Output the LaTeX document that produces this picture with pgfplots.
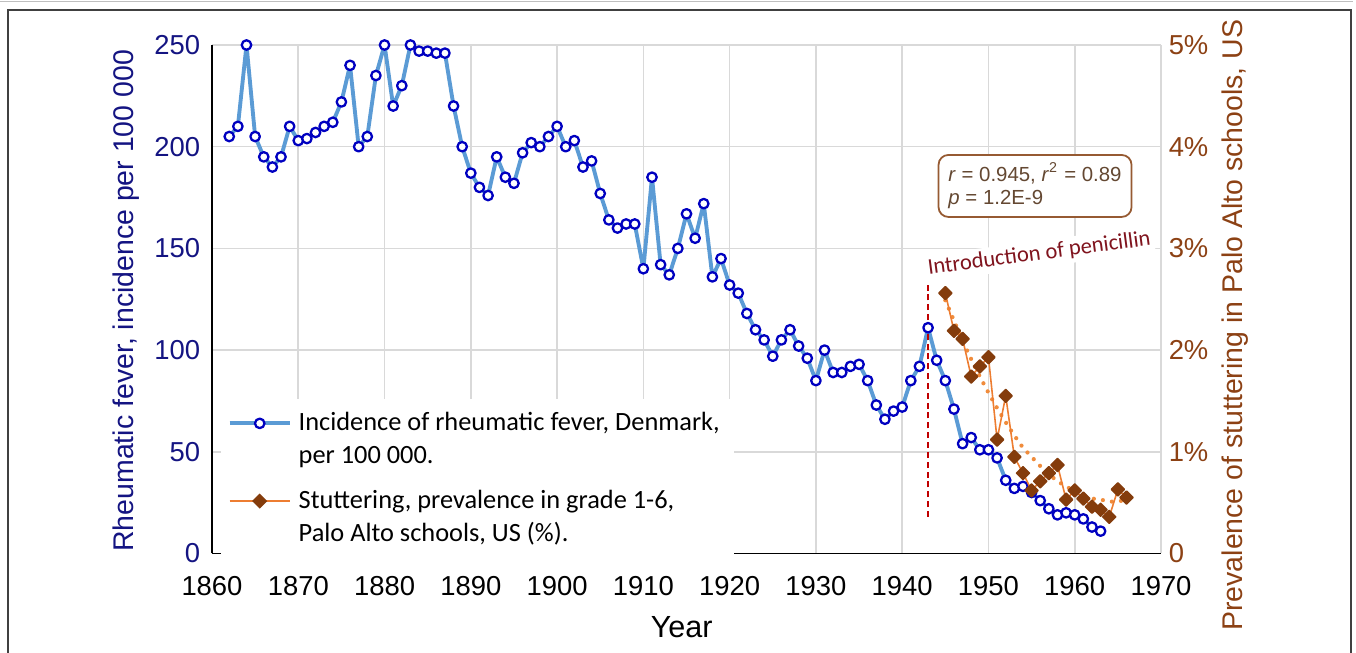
\documentclass[border=0pt]{standalone}
\usepackage{fontspec}
\setmainfont{Liberation Sans}
\newfontfamily\calibri{Carlito}
\usepackage{pgfplots}
\pgfplotsset{compat=1.18}
\definecolor{navyc}{RGB}{20,20,130}
\definecolor{markblue}{RGB}{0,0,192}
\definecolor{blueline}{RGB}{91,155,213}
\definecolor{brownc}{RGB}{140,65,20}
\definecolor{brownd}{RGB}{132,60,12}
\definecolor{orangel}{RGB}{237,125,49}
\definecolor{orangedot}{RGB}{240,140,60}
\definecolor{redd}{RGB}{192,0,0}
\definecolor{pencol}{RGB}{128,20,30}
\definecolor{gridgray}{RGB}{217,217,217}
\definecolor{boxbrown}{RGB}{150,90,50}
\definecolor{boxtext}{RGB}{100,72,50}
\begin{document}
\begin{tikzpicture}
\useasboundingbox (0,0) rectangle (13.56cm,6.53cm);
\begin{scope}[x=0.01cm,y=-0.01cm,shift={(0cm,6.53cm)}]
\draw[black!75, line width=0.45pt] (8,660) -- (8,10) -- (1352,10) -- (1352,660);
\draw[black!25, line width=0.4pt] (0,1.5) -- (1354,1.5);
\end{scope}
\begin{axis}[
 at={(2.12cm,0.995cm)}, anchor=south west,
 scale only axis, width=9.49cm, height=5.085cm,
 xmin=1860, xmax=1970, ymin=0, ymax=250,
 xtick={1860,1870,...,1970}, ytick={0,50,...,250},
 axis x line*=bottom, axis y line*=left,
 axis line style={black, line width=0.5pt, -},
 major tick length=0pt,
 grid=major, major grid style={color=gridgray, line width=0.45pt},
 /pgf/number format/assume math mode=true,
 /pgf/number format/1000 sep={},
 tick label style={font=\fontsize{7.8}{9}\selectfont},
 yticklabel style={text=navyc, inner sep=0pt, xshift=-3.2pt},
 xticklabel style={inner sep=0pt, yshift=-6.2pt},
 ylabel={Rheumatic fever, incidence per 100 000},
 ylabel style={at={(axis description cs:-0.091,0.497)}, anchor=center, text=navyc, font=\fontsize{8.1}{9.7}\selectfont},
 xlabel={Year},
 xlabel style={at={(axis description cs:0.495,-0.166)}, anchor=base, font=\fontsize{8.7}{10}\selectfont},
 legend style={at={(0.0085,0.306)}, anchor=north west, draw=none, fill=white, font=\calibri\fontsize{7.5}{9.4}\selectfont, cells={align=left, anchor=west}, row sep=2pt, inner sep=2pt},
 legend image post style={yshift=5pt},
 legend cell align=left,
]
\addplot[blueline, line width=1.1pt, line join=round, mark=*, mark size=1.35pt, mark options={draw=markblue, fill=white, line width=0.65pt}] coordinates {
(1862,205)(1863,210)(1864,250)(1865,205)(1866,195)(1867,190)(1868,195)(1869,210)
(1870,203)(1871,204)(1872,207)(1873,210)(1874,212)(1875,222)(1876,240)(1877,200)
(1878,205)(1879,235)(1880,250)(1881,220)(1882,230)(1883,250)(1884,247)(1885,247)
(1886,246)(1887,246)(1888,220)(1889,200)(1890,187)(1891,180)(1892,176)(1893,195)
(1894,185)(1895,182)(1896,197)(1897,202)(1898,200)(1899,205)(1900,210)(1901,200)
(1902,203)(1903,190)(1904,193)(1905,177)(1906,164)(1907,160)(1908,162)(1909,162)
(1910,140)(1911,185)(1912,142)(1913,137)(1914,150)(1915,167)(1916,155)(1917,172)
(1918,136)(1919,145)(1920,132)(1921,128)(1922,118)(1923,110)(1924,105)(1925,97)
(1926,105)(1927,110)(1928,102)(1929,96)(1930,85)(1931,100)(1932,89)(1933,89)
(1934,92)(1935,93)(1936,85)(1937,73)(1938,66)(1939,70)(1940,72)(1941,85)
(1942,92)(1943,111)(1944,95)(1945,85)(1946,71)(1947,54)(1948,57)(1949,51)
(1950,51)(1951,47)(1952,36)(1953,32)(1954,33)(1955,30)(1956,26)(1957,22)
(1958,19)(1959,20)(1960,19)(1961,17)(1962,13)(1963,11)
};
\addlegendentry{Incidence of rheumatic fever, Denmark,\\per 100 000.}
\addplot[redd, dash pattern=on 1.7pt off 1.1pt, line width=0.45pt, forget plot] coordinates {(1943,18) (1943,133)};
\addlegendimage{orangel, line width=0.45pt, mark=square*, mark size=1.3pt, mark options={rotate=45, draw=brownd, fill=brownd}}
\addlegendentry{Stuttering, prevalence in grade 1-6,\\Palo Alto schools, US (\%).}
\node[draw=boxbrown, rounded corners=2.8pt, fill=white, line width=0.5pt, align=left, font=\fontsize{5.8}{6.5}\selectfont, text=boxtext, minimum width=1.93cm, minimum height=0.62cm, inner sep=2pt] at (axis cs:1955.4,180.7) {\textit{r} = 0.945, \textit{r}\textsuperscript{2} = 0.89\\\textit{p} = 1.2E-9};
\node[rotate=7.5, anchor=base west, text=pencol, font=\calibri\fontsize{6.4}{7.7}\selectfont, fill=white, inner sep=1pt] at (axis cs:1942.6,136.9) {Introduction of penicillin};
\end{axis}
\begin{axis}[
 at={(2.12cm,0.995cm)}, anchor=south west,
 scale only axis, width=9.49cm, height=5.085cm,
 xmin=1860, xmax=1970, ymin=0, ymax=5,
 axis x line=none, axis y line*=right,
 axis line style={draw=none},
 major tick length=0pt,
 ytick={0,1,2,3,4,5}, yticklabels={0,1\%,2\%,3\%,4\%,5\%},
 yticklabel style={text=brownc, font=\fontsize{7.8}{9}\selectfont, inner sep=0pt, xshift=2pt},
 ylabel={Prevalence of stuttering in Palo Alto schools, US},
 ylabel style={at={(axis description cs:1.078,0.449)}, anchor=center, text=brownc, font=\fontsize{8.1}{9.7}\selectfont},
]
\addplot[orangedot, line width=1.2pt, line cap=round, dash pattern=on 0pt off 2.6pt, forget plot] coordinates {
(1945,2.49)(1946,2.29)(1947,2.09)(1948,1.91)(1949,1.74)(1950,1.58)(1951,1.43)(1952,1.29)
(1953,1.16)(1954,1.04)(1955,0.95)(1956,0.86)(1957,0.78)(1958,0.71)(1959,0.66)(1960,0.61)
(1961,0.57)(1962,0.54)(1963,0.53)(1964,0.51)(1965,0.51)(1966,0.53)
};
\addplot[orangel, line width=0.45pt, line join=round, mark=square*, mark size=1.3pt, mark options={rotate=45, draw=brownd, fill=brownd}] coordinates {
(1945,2.56)(1946,2.19)(1947,2.11)(1948,1.74)(1949,1.84)(1950,1.93)(1951,1.12)(1952,1.55)
(1953,0.95)(1954,0.79)(1955,0.62)(1956,0.71)(1957,0.79)(1958,0.87)(1959,0.53)(1960,0.62)
(1961,0.54)(1962,0.46)(1963,0.43)(1964,0.36)(1965,0.63)(1966,0.55)
};
\end{axis}
\end{tikzpicture}
\end{document}
